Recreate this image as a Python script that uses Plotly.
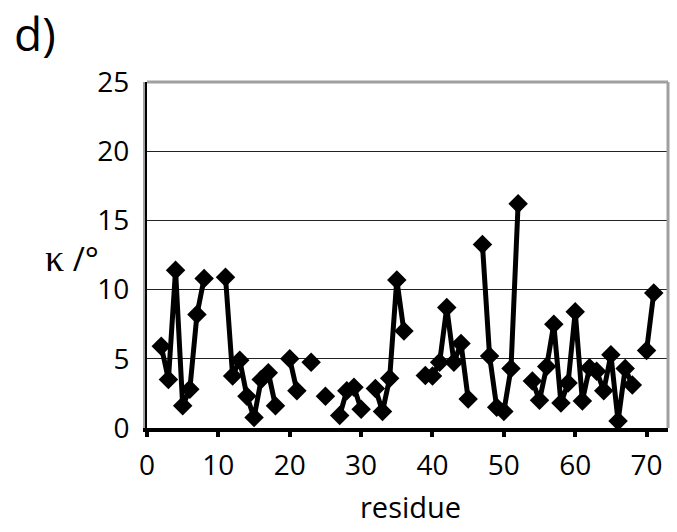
import plotly.graph_objects as go

# kappa angle per residue (None = no value for that residue)
residues = list(range(1, 73))
kappa = [
    None, 5.9, 3.5, 11.4, 1.6, 2.8, 8.2, 10.8, None, None,
    10.9, 3.75, 4.9, 2.3, 0.75, 3.5, 4.0, 1.6, None, 5.0,
    2.7, None, 4.75, None, 2.3, None, 0.9, 2.7, 2.95, 1.35,
    None, 2.85, 1.2, 3.6, 10.7, 7.0, None, None, 3.8, 3.75,
    4.75, 8.7, 4.75, 6.1, 2.1, None, 13.25, 5.2, 1.5, 1.2,
    4.3, 16.2, None, 3.4, 2.0, 4.45, 7.5, 1.8, 3.25, 8.4,
    1.95, 4.35, 4.1, 2.7, 5.3, 0.5, 4.3, 3.1, None, 5.6,
    9.75, None,
]

x_ticks = [0, 10, 20, 30, 40, 50, 60, 70]
y_ticks = [0, 5, 10, 15, 20, 25]

FONT = "Open Sans"

# plot area in pixels
L, R, T, B = 147, 668, 82, 428
W, H = R - L, B - T


def px(x):
    return (x - L) / W


def py(y):
    return (B - y) / H


fig = go.Figure()
fig.add_trace(go.Scatter(
    x=residues, y=kappa, mode="lines+markers",
    connectgaps=False,
    line=dict(color="black", width=5),
    marker=dict(symbol="diamond", size=15, color="black"),
    showlegend=False,
))

fig.update_layout(
    width=677, height=532,
    margin=dict(l=L, r=677 - R, t=T, b=532 - B),
    paper_bgcolor="white", plot_bgcolor="white",
    font=dict(family=FONT, color="black", size=28),
    xaxis=dict(
        range=[0, 73], tickvals=x_ticks, ticktext=[str(v) for v in x_ticks],
        showgrid=False, zeroline=False,
        showline=True, linecolor="black", linewidth=4,
        ticks="outside", ticklen=5, tickwidth=4, tickcolor="black",
        tickfont=dict(size=28), ticklabelstandoff=4,
    ),
    yaxis=dict(
        range=[0, 25], tickvals=y_ticks, ticktext=[str(v) for v in y_ticks],
        showgrid=True, gridcolor="#222222", gridwidth=1,
        zeroline=False,
        showline=True, linecolor="black", linewidth=4,
        ticks="", tickfont=dict(size=28), ticklabelstandoff=8,
    ),
    shapes=[
        dict(type="line", xref="paper", yref="paper", x0=0, x1=1, y0=1, y1=1,
             line=dict(color="#a0a0a0", width=3)),
        dict(type="line", xref="paper", yref="paper", x0=1, x1=1, y0=0, y1=1,
             line=dict(color="#a0a0a0", width=3)),
        dict(type="line", xref="paper", yref="paper",
             x0=px(144), x1=px(144), y0=0, y1=1,
             line=dict(color="#a0a0a0", width=2)),
    ],
    annotations=[
        dict(text="d)", xref="paper", yref="paper",
             x=px(35), y=py(33),
             xanchor="center", yanchor="middle", showarrow=False,
             font=dict(size=46, family=FONT)),
        dict(text="residue", xref="paper", yref="paper",
             x=px(410), y=py(506),
             xanchor="center", yanchor="middle", showarrow=False,
             font=dict(size=29, family=FONT)),
        dict(text='<span style="font-family:Liberation Serif;font-size:38px">κ</span> /°',
             xref="paper", yref="paper",
             x=px(72), y=py(258),
             xanchor="center", yanchor="middle", showarrow=False,
             font=dict(size=33, family=FONT)),
    ],
)

fig.write_html("out.html")
